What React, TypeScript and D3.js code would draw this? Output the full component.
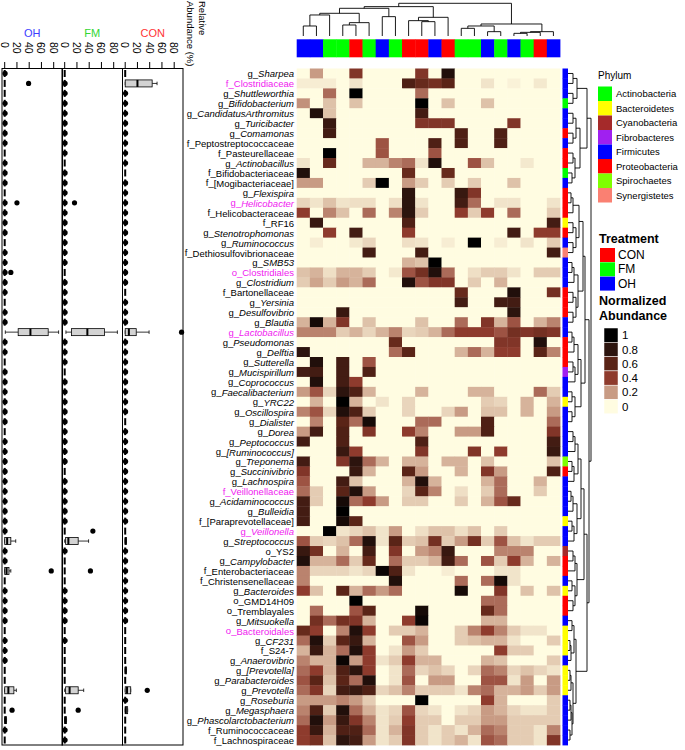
import React from 'react';
import * as d3 from 'd3';

// rows (taxa), top to bottom
const taxa = [
  'g_Sharpea', 'f_Clostridiaceae', 'g_Shuttleworthia', 'g_Bifidobacterium', 'g_CandidatusArthromitus',
  'g_Turicibacter', 'g_Comamonas', 'f_Peptostreptococcaceae', 'f_Pasteurellaceae', 'g_Actinobacillus',
  'f_Bifidobacteriaceae', 'f_[Mogibacteriaceae]', 'g_Flexispira', 'g_Helicobacter', 'f_Helicobacteraceae',
  'f_RF16', 'g_Stenotrophomonas', 'g_Ruminococcus', 'f_Dethiosulfovibrionaceae', 'g_SMB53',
  'o_Clostridiales', 'g_Clostridium', 'f_Bartonellaceae', 'g_Yersinia', 'g_Desulfovibrio',
  'g_Blautia', 'g_Lactobacillus', 'g_Pseudomonas', 'g_Delftia', 'g_Sutterella',
  'g_Mucispirillum', 'g_Coprococcus', 'g_Faecalibacterium', 'g_YRC22', 'g_Oscillospira',
  'g_Dialister', 'g_Dorea', 'g_Peptococcus', 'g_[Ruminococcus]', 'g_Treponema',
  'g_Succinivibrio', 'g_Lachnospira', 'f_Veillonellaceae', 'g_Acidaminococcus', 'g_Bulleidia',
  'f_[Paraprevotellaceae]', 'g_Veillonella', 'g_Streptococcus', 'o_YS2', 'g_Campylobacter',
  'f_Enterobacteriaceae', 'f_Christensenellaceae', 'g_Bacteroides', 'o_GMD14H09', 'o_Tremblayales',
  'g_Mitsuokella', 'o_Bacteroidales', 'g_CF231', 'f_S24-7', 'g_Anaerovibrio',
  'g_[Prevotella]', 'g_Parabacteroides', 'g_Prevotella', 'g_Roseburia', 'g_Megasphaera',
  'g_Phascolarctobacterium', 'f_Ruminococcaceae', 'f_Lachnospiraceae',
];
const highlighted = ['f_Clostridiaceae', 'g_Helicobacter', 'o_Clostridiales', 'g_Lactobacillus',
  'f_Veillonellaceae', 'g_Veillonella', 'o_Bacteroidales'];

const phyla = ['Actinobacteria', 'Bacteroidetes', 'Cyanobacteria', 'Fibrobacteres', 'Firmicutes',
  'Proteobacteria', 'Spirochaetes', 'Synergistetes'];
const phylumColors = ['#00FF00', '#FFFF00', '#A52A2A', '#A020F0', '#0000FF', '#FF0000', '#7FFF00', '#FA8072'];
const rowPhylum = [
  'Firmicutes', 'Firmicutes', 'Firmicutes', 'Actinobacteria', 'Firmicutes', 'Firmicutes', 'Proteobacteria',
  'Firmicutes', 'Proteobacteria', 'Proteobacteria', 'Actinobacteria', 'Firmicutes', 'Proteobacteria',
  'Proteobacteria', 'Proteobacteria', 'Bacteroidetes', 'Proteobacteria', 'Firmicutes', 'Synergistetes',
  'Firmicutes', 'Firmicutes', 'Firmicutes', 'Proteobacteria', 'Proteobacteria', 'Proteobacteria',
  'Firmicutes', 'Firmicutes', 'Proteobacteria', 'Proteobacteria', 'Proteobacteria', 'Fibrobacteres',
  'Firmicutes', 'Firmicutes', 'Bacteroidetes', 'Firmicutes', 'Firmicutes', 'Firmicutes', 'Firmicutes',
  'Firmicutes', 'Spirochaetes', 'Proteobacteria', 'Firmicutes', 'Firmicutes', 'Firmicutes', 'Firmicutes',
  'Bacteroidetes', 'Firmicutes', 'Firmicutes', 'Cyanobacteria', 'Proteobacteria', 'Proteobacteria',
  'Firmicutes', 'Bacteroidetes', 'Proteobacteria', 'Proteobacteria', 'Firmicutes', 'Bacteroidetes',
  'Bacteroidetes', 'Bacteroidetes', 'Firmicutes', 'Bacteroidetes', 'Bacteroidetes', 'Bacteroidetes',
  'Firmicutes', 'Firmicutes', 'Firmicutes', 'Firmicutes', 'Firmicutes',
];

// columns (samples), left to right
const treatments = ['CON', 'FM', 'OH'];
const treatmentColors = ['#FF0000', '#00FF00', '#0000FF'];
const sampleTreatment = ['OH', 'OH', 'FM', 'FM', 'CON', 'FM', 'OH', 'FM', 'CON', 'CON',
  'OH', 'CON', 'FM', 'FM', 'OH', 'FM', 'OH', 'FM', 'CON', 'OH'];

// normalized abundance, one array per taxon (20 samples)
const abundance = [
  [0, .2, 0, 0, .45, 0, 0, 0, 0, .45, 0, .85, 0, 0, 0, 0, 0, 0, 0, 0],
  [.03, .03, .03, 0, .05, 0, 0, 0, .65, .55, .5, .6, 0, 0, .05, 0, .02, 0, .04, 0],
  [0, 0, .3, 0, 1, 0, 0, 0, 0, .3, 0, 0, 0, 0, 0, 0, 0, 0, 0, 0],
  [.22, 0, .12, 0, .12, 0, 0, 0, 0, 1, 0, .12, 0, 0, .12, 0, 0, 0, 0, 0],
  [0, .85, .12, 0, 0, 0, 0, 0, 0, .7, 0, 0, 0, 0, 0, 0, 0, 0, 0, 0],
  [0, 0, .75, 0, 0, 0, 0, 0, 0, .45, .45, .45, 0, 0, 0, 0, .45, 0, 0, 0],
  [0, 0, .7, 0, 0, 0, 0, 0, 0, 0, 0, 0, .65, 0, 0, .65, 0, 0, 0, 0],
  [0, 0, 0, 0, 0, 0, .35, 0, 0, 0, .65, 0, .65, 0, 0, .65, 0, 0, 0, 0],
  [0, 0, 1, 0, 0, 0, .35, 0, 0, 0, .35, 0, 0, 0, 0, 0, 0, 0, 0, 0],
  [.05, 0, .55, 0, 0, .15, .15, .25, .3, .05, .85, 0, 0, .35, .12, 0, 0, .04, 0, 0],
  [.85, 0, 0, 0, 0, 0, 0, 0, .55, 0, 0, .55, 0, 0, 0, 0, 0, 0, 0, 0],
  [.2, .2, 0, 0, 0, .1, 1, 0, .2, .1, 0, .1, 0, .1, 0, 0, .12, 0, 0, 0],
  [0, 0, 0, 0, 0, 0, 0, 0, .8, 0, 0, 0, .75, .45, 0, 0, 0, 0, 0, 0],
  [.08, .05, .12, .05, .06, .06, 0, .06, .8, .05, 0, 0, .7, .3, 0, .05, .05, 0, 0, .05],
  [.4, 0, .25, .12, 0, .3, 0, .25, .8, .1, 0, 0, .4, .1, .4, 0, .3, 0, 0, .1],
  [0, .75, 0, 0, 0, 0, 0, 0, .65, 0, 0, 0, 0, 0, 0, 0, 0, 0, 0, .7],
  [0, 0, .4, 0, .7, 0, 0, 0, .4, 0, 0, 0, 0, 0, 0, 0, .7, 0, .4, .4],
  [0, .03, 0, 0, .04, .08, 0, 0, .06, .05, 0, .03, 0, 1, 0, .03, 0, .05, 0, .1],
  [0, 0, 0, 0, 0, .7, 0, 0, 0, .7, 0, 0, 0, 0, 0, 0, 0, 0, 0, .7],
  [0, 0, 0, 0, 0, 0, 0, 0, .15, .12, 1, 0, 0, 0, 0, 0, 0, 0, 0, 0],
  [.12, .15, .06, .15, .15, .1, 0, .04, .35, .5, .85, .3, 0, .06, .1, .1, .05, 0, .1, .1],
  [.1, .18, .1, .2, .15, .3, 0, 0, .85, .35, .45, .45, 0, .1, 0, .15, 0, 0, 0, 0],
  [0, 0, 0, 0, 0, 0, 0, 0, 0, 0, 0, 0, .55, 0, 0, 0, .85, 0, 0, .5],
  [0, 0, 0, 0, 0, 0, 0, 0, 0, 0, 0, 0, .7, 0, 0, .7, .7, 0, 0, 0],
  [0, 0, 0, .75, 0, 0, 0, 0, 0, 0, 0, 0, 0, 0, 0, 0, .8, 0, 0, 0],
  [.15, .9, .15, .45, 0, .12, 0, 0, 0, .12, 0, 0, .3, 0, .45, .15, .35, 0, .15, .25],
  [.25, .25, .25, .1, .15, .08, .15, .25, .08, .1, .15, .3, .4, .4, .4, .35, .5, .45, .5, .45],
  [0, 0, 0, 0, 0, 0, 0, .55, 0, 0, 0, 0, 0, 0, 0, .45, .45, 0, .85, 0],
  [.8, 0, 0, 0, 0, 0, 0, .3, .6, 0, 0, 0, .15, .3, .15, .4, .4, 0, .6, .25],
  [0, .85, 0, .7, 0, .35, 0, 0, 0, 0, 0, 0, 0, 0, 0, 0, 0, 0, 0, 0],
  [.7, .7, 0, .7, 0, .65, 0, 0, 0, 0, 0, 0, 0, 0, 0, 0, 0, 0, 0, 0],
  [0, .85, 0, .7, .4, 0, 0, 0, 0, 0, 0, 0, 0, 0, 0, 0, 0, 0, 0, 0],
  [.2, .35, .08, .8, .65, .15, 0, 0, 0, .15, 0, 0, 0, .15, .15, 0, 0, 0, .3, .1],
  [0, .15, 0, 1, .15, 0, .05, 0, .08, 0, 0, 0, 0, 0, .1, .08, 0, .15, 0, .15],
  [.25, .35, .08, .85, .65, .1, 0, 0, .08, 0, 0, .08, .2, 0, .12, .12, 0, .15, 0, .2],
  [0, .25, 0, .6, .3, .9, 0, 0, 0, .3, .3, 0, 0, 0, .65, 0, 0, 0, 0, .3],
  [.2, .7, 0, .65, 0, .45, 0, 0, .4, .25, 0, 0, .2, .2, .65, 0, 0, 0, 0, .45],
  [.7, 0, 0, .65, 0, 0, 0, 0, 0, .65, 0, 0, 0, 0, 0, 0, 0, 0, 0, .7],
  [0, 0, 0, .75, .4, 0, 0, 0, 0, .45, 0, 0, 0, .45, 0, .4, 0, 0, 0, .75],
  [.7, 0, 0, .45, .8, .3, .15, 0, .15, .15, 0, .15, .15, 0, .12, 0, 0, 0, 0, .12],
  [.45, 0, 0, 0, .75, .15, 0, 0, .6, .2, 0, 0, .15, 0, .45, .2, 0, 0, 0, .65],
  [.35, 0, 0, .7, .12, 0, 0, 0, .15, .85, .15, 0, 0, 0, .15, .3, 0, 0, .15, 0],
  [.3, .1, 0, .6, .85, .2, 0, 0, .08, .6, .25, 0, .06, 0, .1, .3, 0, 0, .1, 0],
  [.7, .1, 0, .9, .3, .4, .2, 0, .1, .1, 0, 0, .1, 0, .15, .35, .55, 0, 0, 0],
  [.7, 0, 0, 1, 0, 0, 0, 0, 0, 0, 0, 0, 0, 0, 0, 0, 0, 0, 0, 0],
  [.7, 0, 0, .9, .6, 0, 0, 0, 0, 0, 0, 0, 0, 0, 0, 0, 0, 0, 0, 0],
  [0, 0, 1, .05, .08, .12, .05, .2, 0, .06, .12, .12, .06, .12, 0, .1, 0, 0, 0, 0],
  [.35, .1, .08, .12, .3, .85, .05, .6, .1, .12, .5, .1, .2, .5, .1, .35, .12, .05, .1, .1],
  [.75, .5, 0, .15, 0, .7, 0, .45, 0, .2, .25, .75, 0, 0, 0, .25, .25, .25, 0, 0],
  [.85, .15, .15, .3, .1, .55, 0, .3, .1, .1, .15, .7, .3, 0, .35, .1, .4, .15, 0, .15],
  [.25, .08, .08, .08, .05, .08, .95, .65, .05, 0, 0, .03, 0, 0, 0, .05, .05, 0, 0, 0],
  [.25, 0, 0, 0, 0, 0, 0, .85, 0, 0, 0, 0, .3, 0, .3, .9, .05, 0, 0, 0],
  [.4, .12, 0, .6, .15, .3, .2, .3, 0, 0, 0, 0, .9, 0, 0, .45, 0, .12, 0, .12],
  [0, 0, 0, 0, 1, 0, 0, 0, 0, 0, 0, 0, 0, 0, .3, .3, 0, 0, 0, 0],
  [0, .3, 0, 0, .35, .6, 0, 0, 0, .9, 0, 0, 0, 0, .55, .3, 0, 0, 0, 0],
  [0, .5, .3, .5, .45, .15, 0, 0, .4, .95, 0, 0, 0, 0, .15, .15, 0, 0, 0, 0],
  [.55, .4, 0, .25, .85, .4, 0, .1, .1, .15, 0, 0, .1, .25, .4, .25, .1, .05, .05, 0],
  [.3, .85, .1, .6, .75, .15, 0, 0, .35, .2, 0, 0, .1, .12, .15, .15, .05, 0, 0, .1],
  [.15, .75, .15, .3, .85, .4, 0, .05, .2, .1, 0, 0, 0, 0, 0, .4, .1, .1, 0, 0],
  [.25, .15, .15, .95, .2, .4, .05, .1, .4, .15, .15, 0, 0, 0, .15, .12, 0, 0, 0, .1],
  [.3, .4, .15, .65, .8, .4, 0, .05, .3, .08, .12, .08, 0, .08, .3, .25, .08, .12, .08, .05],
  [.35, .6, .12, .6, .3, .85, 0, .05, .35, 0, .2, .2, 0, 0, .35, .35, .05, .2, 0, .2],
  [.3, .45, .08, .7, .75, .65, .08, .12, .25, .1, .1, .1, .05, .25, .3, .15, .15, .2, .1, .2],
  [.2, .2, .2, .25, .2, .1, 0, 0, 0, 1, 0, 0, 0, 0, .4, .15, 0, 0, 0, .1],
  [.25, .65, .1, .85, .3, .15, .05, .08, .35, .08, .05, 0, .05, .08, .2, .15, .08, .05, .05, .1],
  [.3, .85, .2, .75, .45, .25, .05, .1, .4, .1, .1, 0, .1, .1, .2, .2, .1, .1, .1, .1],
  [.4, .75, .15, .65, .65, .3, .05, .15, .45, .1, .05, .1, .05, .15, .3, .25, .1, .1, .05, .25],
  [.4, .5, .12, .8, .7, .2, .05, .1, .45, .1, .05, .1, .15, .05, .35, .3, .1, .1, .05, .45],
];

const legendValues = [1, 0.8, 0.6, 0.4, 0.2, 0];
const rampColors = ['#FFFCE1', '#C89B84', '#8E3B2D', '#5A2417', '#2C140E', '#000000'];

// dendrograms: [left, right, height]; leaves are indices
type Tree = number | [Tree, Tree, number];
const colTree: Tree = [
  [[[[[0, 1, 30], 2, 63], [[3, 4, 33], 5, 40], 68], [6, 7, 58], 83], [[8, [9, 10, 43], 46], 11, 56], 88],
  [[[12, 13, 23], [14, 15, 13], 30], [[[16, 17, 8], 18, 11], 19, 13], 36],
  98,
];
const rowTree: Tree = [
  [[[0, 1, 5], [2, 3, 5], 9], [[[4, 5, 5], [6, 7, 5], 8], [[8, 9, 5], [10, 11, 4], 7], 12], 19],
  [
    [
      [[[[12, 13, 3], 14, 5], [[15, 16, 5], [17, 18, 5], 8], 11], [[[19, 20, 4], 21, 6], [[22, 23, 5], [24, 25, 5], 8], 10], 15],
      [[[[26, 27, 4], 28, 6], [[29, 30, 5], 31, 7], 10], [[32, 33, 4], [34, 35, 4], 7], 13],
      17,
    ],
    [
      [[[[[36, 37, 5], 38, 7], [[39, 40, 4], 41, 6], 10], [[[42, 43, 3], 44, 5], [[45, 46, 4], 47, 6], 9], 13],
        [[[48, 49, 5], 50, 7], [[51, 52, 4], [53, 54, 5], 7], 9], 16],
      [[[55, 56, 4], [[57, 58, 2], 59, 3], 6], [[[60, 61, 2], 62, 3], [[[63, 64, 2], 65, 3], [66, 67, 2], 4], 5], 8],
      19,
    ],
    21,
  ],
  23,
];

// relative abundance (%) boxplots per treatment: [row, lo, q1, median, q3, hi]
const panelNames = ['OH', 'FM', 'CON'];
const panelColors = ['#3D3DFF', '#33D633', '#FF3333'];
const abundanceTicks = [0, 20, 40, 60, 80];
const ohBoxes = [[26, 1, 22, 42, 71, 88], [47, 0, 0, 4, 10, 18], [50, 0, 0, 3, 7, 10], [62, 0, 0, 6, 15, 19], [65, 0, 0, 1, 3, 3]];
const fmBoxes = [[26, 2, 11, 37, 65, 86], [47, 0, 1.5, 6, 22, 39], [62, 0, 1.5, 8, 22, 31], [65, 0, 0, 1, 3, 3]];
const conBoxes = [[1, 0, 0, 20, 44, 52], [26, 0, 0, 6, 18, 39], [62, 0, 0, 3, 9, 9], [64, 0, 0, 1, 4, 4], [47, 0, 0, 0.5, 2, 2], [60, 0, 0, 0.5, 2, 2]];
// rows whose box collapses to zero with no point at zero
const ohDash = [1, 2, 8, 12, 17, 23, 29, 36, 51, 56, 60, 61, 63, 64, 67];
const fmDash = [0, 9, 20, 30, 40, 46, 49, 50, 51, 56, 58, 59, 60, 61, 63, 64];
const conDash = [0, 10, 22, 35, 46, 56, 57, 58, 59, 61, 65, 66, 67];
// outliers: [row, value]
const ohOutliers = [[1, 39], [13, 20], [20, 10], [50, 76], [64, 12]];
const fmOutliers = [[13, 16], [46, 46], [50, 42], [64, 22]];
const conOutliers = [[26, 92], [62, 36]];

const panelBoxes = [ohBoxes, fmBoxes, conBoxes];
const panelDash = [ohDash, fmDash, conDash];
const panelOutliers = [ohOutliers, fmOutliers, conOutliers];

const FONT = '"Liberation Sans", Arial, Helvetica, sans-serif';

type Seg = { p1: number; h1: number; p2: number; h2: number };
function layoutTree(t: Tree, pos: (i: number) => number, segs: Seg[]): { p: number; h: number } {
  if (typeof t === 'number') return { p: pos(t), h: 0 };
  const a = layoutTree(t[0], pos, segs);
  const b = layoutTree(t[1], pos, segs);
  const h = t[2];
  segs.push({ p1: a.p, h1: a.h, p2: a.p, h2: h });
  segs.push({ p1: b.p, h1: b.h, p2: b.p, h2: h });
  segs.push({ p1: a.p, h1: h, p2: b.p, h2: h });
  return { p: (a.p + b.p) / 2, h };
}

export default function App() {
  const rows = d3.range(taxa.length);
  const cols = d3.range(sampleTreatment.length);
  const y = d3.scaleBand<number>().domain(rows).range([68.5, 745]);
  const x = d3.scaleBand<number>().domain(cols).range([296.7, 560]);
  const color = d3.scaleLinear<string>().domain([0, 0.2, 0.4, 0.6, 0.8, 1]).range(rampColors).clamp(true);
  const treatColor = d3.scaleOrdinal<string, string>().domain(treatments).range(treatmentColors);
  const phylumColor = d3.scaleOrdinal<string, string>().domain(phyla).range(phylumColors);

  const colSegs: Seg[] = [];
  layoutTree(colTree, (i) => x(i)! + x.bandwidth() / 2, colSegs);
  const colH = d3.scaleLinear().domain([0, 98]).range([36, 3.3]);

  const rowSegs: Seg[] = [];
  layoutTree(rowTree, (i) => y(i)! + y.bandwidth() / 2, rowSegs);
  const rowH = d3.scaleLinear().domain([0, 23]).range([568, 591]);

  const panelLefts = [2, 62, 122.5];
  const panelW = 60.5;
  const boxH = 7;

  return (
    <svg width={685} height={750} style={{ position: 'absolute', left: 0, top: 0, fontFamily: FONT }}>
      <rect width={685} height={750} fill="#fff" />

      {/* boxplot panels */}
      {panelNames.map((name, k) => {
        const left = panelLefts[k];
        const px = d3.scaleLinear().domain([0, 80]).range([left + 2.7, left + 51.7]);
        const boxRows = new Set(panelBoxes[k].map((b) => b[0]));
        const dashRows = new Set(panelDash[k]);
        return (
          <g key={name}>
            <text x={left + panelW / 2} y={37} textAnchor="middle" fontSize={11} fill={panelColors[k]}>{name}</text>
            {abundanceTicks.map((t) => (
              <g key={t}>
                <line x1={px(t)} x2={px(t)} y1={62} y2={68.5} stroke="#000" strokeWidth={1} />
                <text transform={`translate(${px(t)},42) rotate(90)`} fontSize={10.5} dominantBaseline="central">{t}</text>
              </g>
            ))}
            {rows.map((r) => {
              if (boxRows.has(r)) return null;
              const cy = y(r)! + y.bandwidth() / 2;
              return (
                <g key={r}>
                  <line x1={px(0)} x2={px(0)} y1={cy - boxH / 2} y2={cy + boxH / 2} stroke="#000" strokeWidth={2} />
                  {!dashRows.has(r) && <circle cx={px(0.6)} cy={cy} r={2.6} fill="#000" />}
                </g>
              );
            })}
            {panelBoxes[k].map(([r, lo, q1, med, q3, hi]) => {
              const cy = y(r)! + y.bandwidth() / 2;
              return (
                <g key={r} stroke="#000">
                  <line x1={px(lo)} x2={px(q1)} y1={cy} y2={cy} strokeWidth={0.8} />
                  <line x1={px(q3)} x2={px(hi)} y1={cy} y2={cy} strokeWidth={0.8} />
                  <line x1={px(lo)} x2={px(lo)} y1={cy - boxH / 4} y2={cy + boxH / 4} strokeWidth={0.8} />
                  <line x1={px(hi)} x2={px(hi)} y1={cy - boxH / 4} y2={cy + boxH / 4} strokeWidth={0.8} />
                  <rect x={px(q1)} y={cy - boxH / 2} width={px(q3) - px(q1)} height={boxH} fill="#D3D3D3" strokeWidth={0.8} />
                  <line x1={px(med)} x2={px(med)} y1={cy - boxH / 2} y2={cy + boxH / 2} strokeWidth={2} />
                </g>
              );
            })}
            {panelOutliers[k].map(([r, v], i) => (
              <circle key={i} cx={px(v)} cy={y(r)! + y.bandwidth() / 2} r={2.6} fill="#000" />
            ))}
            <rect x={left} y={68.5} width={panelW} height={745 - 68.5} fill="none" stroke="#000" strokeWidth={1} />
          </g>
        );
      })}
      <text transform="translate(202,1) rotate(90)" fontSize={9.5} dominantBaseline="central">Relative</text>
      <text transform="translate(190,1) rotate(90)" fontSize={9.5} dominantBaseline="central">Abundance (%)</text>

      {/* taxon labels */}
      {taxa.map((t, r) => {
        const prefix = t.slice(0, 2);
        const name = t.slice(2);
        return (
          <text key={t} x={294} y={y(r)! + y.bandwidth() / 2} textAnchor="end" dominantBaseline="central"
            fontSize={9.5} fill={highlighted.includes(t) ? '#F020F0' : '#000'}>
            {prefix}
            <tspan fontStyle={prefix === 'g_' ? 'italic' : 'normal'}>{name}</tspan>
          </text>
        );
      })}

      {/* column dendrogram + treatment bar */}
      {colSegs.map((s, i) => (
        <line key={i} x1={s.p1} x2={s.p2} y1={colH(s.h1)} y2={colH(s.h2)} stroke="#000" strokeWidth={0.9} />
      ))}
      {cols.map((c) => (
        <rect key={c} x={x(c)!} y={39.3} width={x.bandwidth() + 0.4} height={18} fill={treatColor(sampleTreatment[c])} />
      ))}

      {/* heatmap */}
      {abundance.map((row, r) =>
        row.map((v, c) => (
          <rect key={`${r}-${c}`} x={x(c)!} y={y(r)!} width={x.bandwidth() + 0.4} height={y.bandwidth() + 0.4} fill={color(v)} />
        )),
      )}

      {/* phylum bar + row dendrogram */}
      {rows.map((r) => (
        <rect key={r} x={562.5} y={y(r)!} width={5.5} height={y.bandwidth() + 0.4} fill={phylumColor(rowPhylum[r])} />
      ))}
      {rowSegs.map((s, i) => (
        <line key={i} x1={rowH(s.h1)} x2={rowH(s.h2)} y1={s.p1} y2={s.p2} stroke="#000" strokeWidth={0.9} />
      ))}

      {/* legends */}
      <text x={598} y={79} fontSize={10}>Phylum</text>
      {phyla.map((p, i) => (
        <g key={p}>
          <rect x={598} y={86.5 + i * 14.5} width={14} height={14.5} fill={phylumColors[i]} />
          <text x={616} y={93.7 + i * 14.5} fontSize={9.5} dominantBaseline="central">{p}</text>
        </g>
      ))}
      <text x={599} y={243} fontSize={12.5} fontWeight="bold">Treatment</text>
      {treatments.map((t, i) => (
        <g key={t}>
          <rect x={600} y={248 + i * 14.3} width={15} height={14} fill={treatmentColors[i]} />
          <text x={618} y={255 + i * 14.3} fontSize={12} dominantBaseline="central">{t}</text>
        </g>
      ))}
      <text x={599} y={305} fontSize={12.5} fontWeight="bold">Normalized</text>
      <text x={599} y={320} fontSize={12.5} fontWeight="bold">Abundance</text>
      {legendValues.map((v, i) => (
        <g key={v}>
          <rect x={604} y={328 + i * 14.3} width={14} height={14.3} fill={color(v)} stroke="#fff" strokeWidth={0.5} />
          <text x={622} y={335.2 + i * 14.3} fontSize={11.5} dominantBaseline="central">{v}</text>
        </g>
      ))}
    </svg>
  );
}
